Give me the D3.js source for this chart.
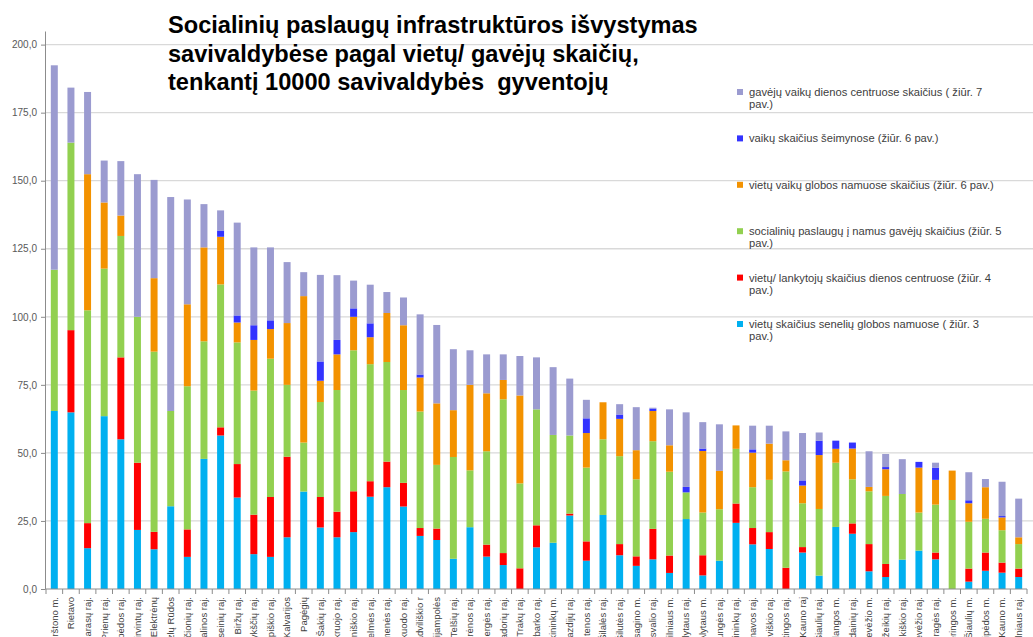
<!DOCTYPE html>
<html>
<head>
<meta charset="utf-8">
<script src="https://cdn.jsdelivr.net/npm/d3@7"></script>
<style>
  body { margin: 0; background: #fff; }
  text { font-family: "Liberation Sans", Arial, sans-serif; }
</style>
</head>
<body>
<div id="chart"></div>
<script>
// Municipalities, sorted by total
const names = ["Birštono m.", "Rietavo", "Zarasų raj.", "Prienų raj.", "Klaipėdos raj.", "Širvintų raj.", "Elektrėnų", "Kazlų Rūdos", "Švenčionių raj.", "Ignalinos raj.", "Raseinių raj.", "Biržų raj.", "Anykščių raj.", "Kupiškio raj.", "Kalvarijos", "Pagėgių", "Šakių raj.", "Pakruojo raj.", "Joniškio raj.", "Kelmės raj.", "Akmenės raj.", "Skuodo raj.", "Radviliškio r", "Marijampolės", "Telšių raj.", "Varėnos raj.", "Ukmergės raj.", "Kaišiadorių raj.", "Trakų raj.", "Jurbarko raj.", "Druskininkų m.", "Lazdijų raj.", "Utenos raj.", "Šilalės raj.", "Šilutės raj.", "Visagino m.", "Pasvalio raj.", "Vilniaus m.", "Alytaus raj.", "Alytaus m.", "Plungės raj.", "Šalčininkų raj.", "Jonavos raj.", "Vilkaviškio raj.", "Kretingos raj.", "Kauno raj", "Šiaulių raj.", "Palangos m.", "Kėdainių raj.", "Panevėžio m.", "Mažeikių raj.", "Rokiškio raj.", "Panevėžio raj.", "Tauragės raj.", "Neringos m.", "Šiaulių m.", "Klaipėdos m.", "Kauno m.", "Vilniaus raj."];

// series, bottom to top of each stack
const seneliu = [65.4, 64.9, 15.0, 63.5, 55.0, 21.7, 14.6, 30.4, 11.8, 47.8, 56.4, 33.6, 12.8, 11.8, 19.0, 35.8, 22.6, 19.0, 20.9, 33.9, 37.4, 30.3, 19.5, 18.0, 11.1, 22.7, 11.9, 8.8, 0, 15.3, 17.0, 27.0, 10.4, 27.2, 12.4, 8.5, 10.9, 5.9, 25.7, 5.0, 10.4, 24.3, 16.4, 14.7, 0, 13.4, 4.9, 22.8, 20.3, 6.5, 4.4, 10.8, 14.1, 10.9, 0, 2.7, 6.7, 6.0, 4.4];
const dienosCentrai = [0, 30.2, 9.2, 0, 30.1, 24.7, 6.4, 0, 10.1, 0, 3.0, 12.3, 14.5, 22.0, 29.6, 0, 11.2, 9.4, 15.0, 5.7, 9.4, 8.7, 2.9, 4.2, 0, 0, 4.4, 4.4, 7.6, 8.1, 0, 0.7, 7.1, 0, 4.1, 3.5, 11.2, 6.4, 0, 7.4, 0, 7.1, 6.0, 6.2, 7.8, 2.0, 0, 0, 3.8, 10.0, 4.8, 0, 0, 2.5, 0, 4.8, 6.7, 3.7, 3.1];
const namus = [51.9, 68.9, 78.2, 54.2, 44.6, 53.6, 66.2, 35.0, 52.6, 43.2, 52.5, 44.7, 45.6, 50.8, 26.4, 18.0, 34.9, 44.7, 51.8, 43.0, 36.6, 34.1, 42.8, 23.4, 37.4, 20.9, 34.3, 56.5, 31.2, 42.6, 39.6, 28.7, 27.1, 27.8, 32.3, 28.3, 32.2, 30.8, 9.8, 15.7, 18.9, 20.1, 15.0, 19.2, 35.4, 16.1, 24.5, 23.6, 16.2, 19.4, 25.0, 24.1, 14.0, 17.6, 32.7, 17.2, 12.4, 11.9, 9.0];
const vaikuGlobos = [0, 0, 50.0, 24.3, 7.5, 0, 27.0, 0, 30.1, 34.5, 17.5, 7.3, 18.6, 10.9, 22.7, 53.8, 7.8, 13.1, 12.3, 9.9, 18.0, 23.8, 12.5, 22.6, 17.2, 31.4, 21.3, 7.1, 32.3, 0, 0, 0, 12.7, 13.6, 13.7, 10.7, 11.1, 9.7, 0, 22.6, 14.1, 8.6, 12.7, 13.3, 4.1, 6.5, 19.8, 5.1, 11.3, 1.6, 9.8, 0, 16.5, 9.1, 10.8, 6.8, 11.6, 4.7, 2.5];
const seimynos = [0, 0, 0, 0, 0, 0, 0, 0, 0, 0, 2.3, 2.6, 5.4, 3.2, 0, 0, 7.1, 5.3, 3.1, 5.1, 0, 0, 1.1, 0, 0, 0, 0, 0, 0, 0, 0, 0, 5.4, 0, 1.6, 0, 0.9, 0, 2.0, 0.9, 0, 0, 1.2, 0, 0, 1.9, 5.3, 3.0, 2.2, 0, 0.8, 0, 2.1, 4.5, 0, 1.1, 0, 0.5, 0];
const vaikuDienos = [75.1, 20.2, 30.2, 15.4, 20.0, 52.4, 36.1, 78.6, 38.5, 15.9, 7.4, 34.1, 28.6, 26.8, 22.4, 8.8, 31.8, 23.8, 10.2, 14.2, 7.7, 10.2, 22.1, 28.8, 22.4, 12.7, 14.3, 9.4, 14.5, 19.1, 24.9, 20.9, 6.8, 0, 3.8, 15.8, 0.3, 13.2, 27.4, 9.7, 17.1, 0, 8.7, 6.6, 10.6, 17.4, 3.0, 0, 0, 13.1, 4.8, 12.8, 0, 1.8, 0, 10.3, 3.0, 12.6, 14.2];

const seriesKeys = ["seneliu", "dienosCentrai", "namus", "vaikuGlobos", "seimynos", "vaikuDienos"];
const seriesValues = [seneliu, dienosCentrai, namus, vaikuGlobos, seimynos, vaikuDienos];
const colors = ["#00B0F0", "#FF0000", "#92D050", "#F39200", "#3333FF", "#9B9BD0"];

// legend, top to bottom (reverse stack order)
const legendLabels = [
  ["gavėjų vaikų dienos centruose skaičius ( žiūr. 7", "pav.)"],
  ["vaikų skaičius šeimynose (žiūr. 6 pav.)"],
  ["vietų vaikų globos namuose skaičius (žiūr. 6 pav.)"],
  ["socialinių paslaugų į namus gavėjų skaičius (žiūr. 5", "pav.)"],
  ["vietų/ lankytojų skaičius dienos centruose (žiūr. 4", "pav.)"],
  ["vietų skaičius senelių globos namuose ( žiūr. 3", "pav.)"]
];
const titleLines = ["Socialinių paslaugų infrastruktūros išvystymas", "savivaldybėse pagal vietų/ gavėjų skaičių,", "tenkantį 10000 savivaldybės  gyventojų"];
const yTicks = [0, 25, 50, 75, 100, 125, 150, 175, 200];

const width = 1033, height = 637;
const svg = d3.select("#chart").append("svg").attr("width", width).attr("height", height);

const rows = names.map((n, i) => {
  const r = { name: n };
  seriesKeys.forEach((k, j) => r[k] = seriesValues[j][i]);
  return r;
});
const stacked = d3.stack().keys(seriesKeys)(rows);

const x = d3.scaleBand().domain(names).range([46, 1027]).paddingInner(0.58).paddingOuter(0.29);
const y = d3.scaleLinear().domain([0, 205]).range([589, 31]);

// grid
svg.append("g").selectAll("line").data(yTicks.slice(1)).join("line")
  .attr("x1", 45).attr("x2", width)
  .attr("y1", d => y(d)).attr("y2", d => y(d))
  .attr("stroke", "#d9d9d9").attr("stroke-width", 1.3);

// bars
svg.append("g").selectAll("g").data(stacked).join("g")
  .attr("fill", (d, i) => colors[i])
  .selectAll("rect").data(d => d).join("rect")
  .attr("x", d => x(d.data.name))
  .attr("width", x.bandwidth())
  .attr("y", d => y(d[1]))
  .attr("height", d => y(d[0]) - y(d[1]));

// y axis
const yAxis = svg.append("g").attr("transform", "translate(45,0)")
  .call(d3.axisLeft(y).tickValues(yTicks).tickSize(4).tickSizeOuter(0)
    .tickFormat(d => d.toFixed(1).replace(".", ",")));
yAxis.select(".domain").attr("stroke", "#8c8c8c");
yAxis.selectAll(".tick line").attr("stroke", "#8c8c8c");
yAxis.selectAll(".tick text").attr("x", -8).attr("fill", "#595959")
  .style("font-size", "10px").style("font-family", "Liberation Sans, Arial, sans-serif");

// x axis (labels run past the bottom edge, as in the original)
const xAxis = svg.append("g");
xAxis.append("line").attr("x1", 45).attr("x2", 1027).attr("y1", 589).attr("y2", 589).attr("stroke", "#8c8c8c");
xAxis.selectAll("line.tk").data(d3.range(names.length + 1)).join("line").attr("class", "tk")
  .attr("x1", i => 46 + i * x.step()).attr("x2", i => 46 + i * x.step())
  .attr("y1", 589).attr("y2", 594).attr("stroke", "#8c8c8c");
xAxis.selectAll("text").data(names).join("text")
  .attr("transform", d => `translate(${x(d) + x.bandwidth() / 2},597) rotate(-90)`)
  .attr("text-anchor", "end").attr("dy", "0.35em")
  .attr("fill", "#404040").style("font-size", "9.5px")
  .text(d => d);

// title
svg.append("g").selectAll("text").data(titleLines).join("text")
  .attr("x", 168).attr("y", (d, i) => 33 + i * 28.5)
  .style("font-size", "23.6px").style("font-weight", "bold").style("white-space", "pre")
  .attr("fill", "#000").text(d => d);

// legend
const legend = svg.append("g").selectAll("g").data(legendLabels).join("g")
  .attr("transform", (d, i) => `translate(737,${92 + i * 46.4})`);
legend.append("rect").attr("x", 0).attr("y", -3).attr("width", 6).attr("height", 6)
  .attr("fill", (d, i) => colors[colors.length - 1 - i]);
legend.selectAll("text").data(d => d).join("text")
  .attr("x", 12).attr("y", (d, i) => i * 12).attr("dy", "0.35em")
  .attr("fill", "#404040").style("font-size", "11.2px")
  .text(d => d);
</script>
</body>
</html>
